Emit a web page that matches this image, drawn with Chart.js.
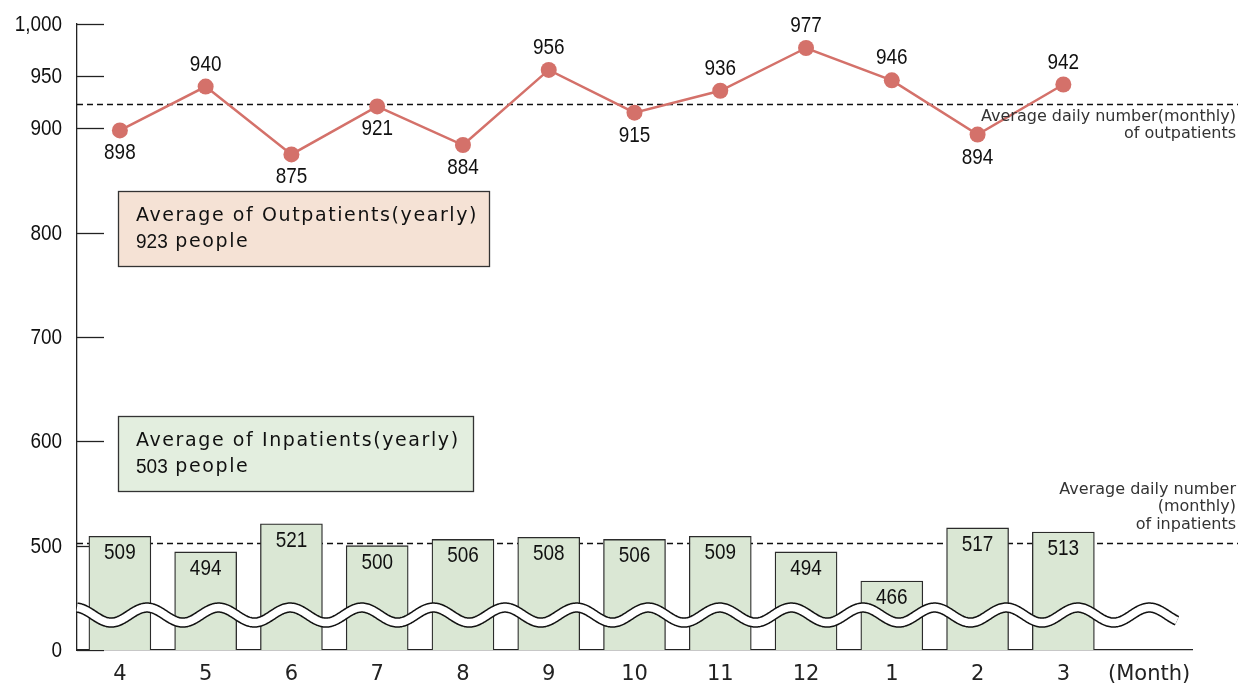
<!DOCTYPE html>
<html>
<head>
<meta charset="utf-8">
<title>Average daily number of patients</title>
<script src="https://cdn.jsdelivr.net/npm/chart.js@4.4.1/dist/chart.umd.min.js"></script>
<style>
  html, body { margin: 0; padding: 0; background: #fff; }
  canvas { display: block; }
</style>
</head>
<body>
<canvas id="chartPatients" width="1238" height="684"></canvas>
<script>
// ===== DATA =====
const months = ['4', '5', '6', '7', '8', '9', '10', '11', '12', '1', '2', '3'];
const outpatients = [898, 940, 875, 921, 884, 956, 915, 936, 977, 946, 894, 942];
const inpatients  = [509, 494, 521, 500, 506, 508, 506, 509, 494, 466, 517, 513];
const outLabelSide = ['down', 'up', 'down', 'down', 'down', 'up', 'down', 'up', 'up', 'up', 'down', 'up'];
const outpatientAvg = 923;
const inpatientAvg = 503;
const xUnitLabel = '(Month)';
// 400 is the floor of the broken axis, printed as "0"
const AXIS_FLOOR = 400;
const yTicks = [400, 500, 600, 700, 800, 900, 950, 1000];

// ===== STYLE =====
const NUM_FONT = '"Liberation Sans", Arial, sans-serif';
const TXT_FONT = '"DejaVu Sans", "Noto Sans", sans-serif';
const NUM_SQUEEZE = 0.86;   // numbers in the original are condensed
const INK = '#222';
const LINE_COLOR = '#d4716a';
const BAR_FILL = '#dae7d4';

function yLabel(v) {
  return v === AXIS_FLOOR ? '0' : v.toLocaleString('en-US');
}

// condensed number text
function drawNum(ctx, text, x, y, align, squeeze) {
  ctx.save();
  ctx.translate(x, y);
  ctx.scale(squeeze || NUM_SQUEEZE, 1);
  ctx.textAlign = align || 'center';
  ctx.textBaseline = 'middle';
  ctx.fillText(text, 0, 0);
  ctx.restore();
}

/* ------------------------------
   DECORATIONS: ticks, averages, labels, axis break, notes
--------------------------------*/
const decorations = {
  id: 'decorations',

  beforeDatasetsDraw(chart) {
    const { ctx, chartArea: a, scales: { y } } = chart;
    ctx.save();
    // tick marks point into the plot, labels drawn here too
    ctx.strokeStyle = INK;
    ctx.lineWidth = 1.3;
    ctx.fillStyle = '#111';
    ctx.font = '22px ' + NUM_FONT;
    yTicks.forEach(v => {
      const py = Math.round(y.getPixelForValue(v)) + 0.5;
      ctx.beginPath();
      ctx.moveTo(a.left, py);
      ctx.lineTo(a.left + 27, py);
      ctx.stroke();
      drawNum(ctx, yLabel(v), a.left - 15, py, 'right');
    });
    // yearly averages as dashed lines
    ctx.setLineDash([6, 4]);
    ctx.lineWidth = 1.3;
    ctx.strokeStyle = '#111';
    [outpatientAvg, inpatientAvg].forEach(v => {
      const py = Math.round(y.getPixelForValue(v)) + 0.5;
      ctx.beginPath();
      ctx.moveTo(a.left, py);
      ctx.lineTo(chart.width, py);
      ctx.stroke();
    });
    ctx.restore();
  },

  afterDatasetsDraw(chart) {
    const { ctx, chartArea: a, scales: { y } } = chart;
    ctx.save();
    ctx.fillStyle = '#111';
    ctx.font = '22px ' + NUM_FONT;

    // bar values
    chart.getDatasetMeta(0).data.forEach((el, i) => {
      drawNum(ctx, String(inpatients[i]), el.x, el.y + 17);
    });

    // point values
    chart.getDatasetMeta(1).data.forEach((el, i) => {
      const dy = outLabelSide[i] === 'up' ? -22 : 23;
      drawNum(ctx, String(outpatients[i]), el.x, el.y + dy);
    });

    // wavy axis break
    const yc = y.getPixelForValue(433.5);
    const x0 = a.left, x1 = a.right - 15;
    const period = 71.6, amp = 7.5, peakX = a.left + 70;
    ctx.beginPath();
    for (let x = x0; x <= x1; x += 1) {
      const wy = yc - amp * Math.cos(2 * Math.PI * (x - peakX) / period);
      if (x === x0) ctx.moveTo(x, wy); else ctx.lineTo(x, wy);
    }
    ctx.lineCap = 'butt';
    ctx.lineJoin = 'round';
    ctx.strokeStyle = '#111';
    ctx.lineWidth = 10.5;
    ctx.stroke();
    ctx.strokeStyle = '#fff';
    ctx.lineWidth = 7.5;
    ctx.stroke();
    ctx.restore();
  },

  afterDraw(chart) {
    const { ctx, scales: { y } } = chart;
    ctx.save();

    drawBox(ctx, 118, 191, 371, 75, '#f5e2d5', 'Average of Outpatients(yearly)', outpatientAvg);
    drawBox(ctx, 118, 416, 355, 75, '#e3eedf', 'Average of Inpatients(yearly)', inpatientAvg);

    // notes for the dashed lines
    ctx.fillStyle = '#333';
    ctx.font = '16px ' + TXT_FONT;
    ctx.textAlign = 'right';
    ctx.textBaseline = 'middle';
    const right = chart.width - 2;
    const yo = y.getPixelForValue(outpatientAvg);
    ctx.fillText('Average daily number(monthly)', right, yo + 13);
    ctx.fillText('of outpatients', right, yo + 30);
    const yi = y.getPixelForValue(inpatientAvg);
    ctx.fillText('Average daily number', right, yi - 53);
    ctx.fillText('(monthly)', right, yi - 36);
    ctx.fillText('of inpatients', right, yi - 18);
    ctx.restore();
  }
};

function drawBox(ctx, x, y, w, h, fill, title, num) {
  ctx.fillStyle = fill;
  ctx.fillRect(x, y, w, h);
  ctx.strokeStyle = '#333';
  ctx.lineWidth = 1.3;
  ctx.strokeRect(x + 0.5, y + 0.5, w, h);

  ctx.fillStyle = '#111';
  ctx.textAlign = 'left';
  ctx.textBaseline = 'middle';
  ctx.font = '19px ' + TXT_FONT;
  ctx.letterSpacing = '1.6px';
  ctx.fillText(title, x + 18, y + 25);

  ctx.letterSpacing = '0px';
  ctx.font = '20px ' + NUM_FONT;
  const numText = String(num);
  const squeeze = 0.95;
  drawNum(ctx, numText, x + 18, y + 51, 'left', squeeze);
  const nw = ctx.measureText(numText).width * squeeze;
  ctx.font = '19px ' + TXT_FONT;
  ctx.letterSpacing = '1.6px';
  ctx.textAlign = 'left';
  ctx.textBaseline = 'middle';
  ctx.fillText(' people', x + 18 + nw, y + 51);
  ctx.letterSpacing = '0px';
}

/* ------------------------------
   CHART
--------------------------------*/
const ctx = document.getElementById('chartPatients').getContext('2d');

new Chart(ctx, {
  type: 'bar',
  data: {
    labels: [...months, xUnitLabel],
    datasets: [
      {
        type: 'bar',
        label: 'Inpatients',
        data: inpatients,
        backgroundColor: BAR_FILL,
        borderColor: '#2b2b2b',
        borderWidth: 1.3,
        borderSkipped: false,
        barThickness: 62,
        order: 2
      },
      {
        type: 'line',
        label: 'Outpatients',
        data: outpatients,
        borderColor: LINE_COLOR,
        borderWidth: 2.5,
        pointRadius: 8,
        pointBackgroundColor: LINE_COLOR,
        pointBorderWidth: 0,
        tension: 0,
        order: 1
      }
    ]
  },
  options: {
    responsive: false,
    devicePixelRatio: 1,
    animation: false,
    layout: { padding: { top: 24, right: 46, left: 0, bottom: 0 } },
    plugins: {
      legend: { display: false },
      tooltip: { enabled: false }
    },
    scales: {
      x: {
        type: 'category',
        offset: true,
        grid: { display: false, drawTicks: false },
        border: { display: true, color: INK, width: 1.3 },
        ticks: {
          color: INK,
          font: { family: TXT_FONT, size: 21 },
          padding: 12,
          maxRotation: 0,
          autoSkip: false
        },
        afterFit: s => { s.height = 34; }
      },
      y: {
        min: AXIS_FLOOR,
        max: 1000,
        beginAtZero: false,
        afterBuildTicks: s => { s.ticks = yTicks.map(v => ({ value: v })); },
        grid: { drawOnChartArea: false, drawTicks: false },
        border: { display: true, color: INK, width: 1.3 },
        ticks: { display: false },
        afterFit: s => { s.width = 77; }
      }
    }
  },
  plugins: [decorations]
});
</script>
</body>
</html>
